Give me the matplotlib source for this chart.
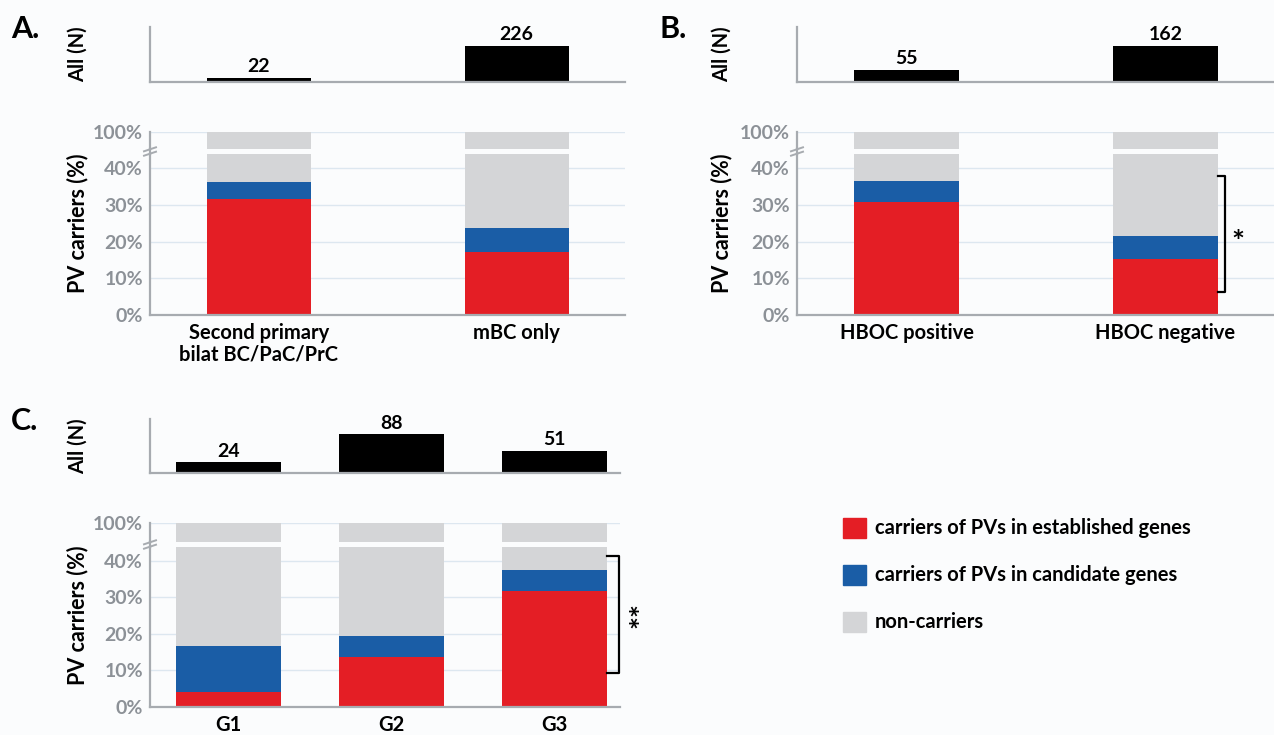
import matplotlib
matplotlib.use("Agg")
import matplotlib.pyplot as plt
from matplotlib.patches import Patch
from matplotlib.lines import Line2D
import numpy as np

plt.rcParams["font.family"] = ["Lato", "DejaVu Sans"]
plt.rcParams["font.weight"] = "bold"

W, H = 1274, 735

# panel A
a_cats = ["Second primary\nbilat BC/PaC/PrC", "mBC only"]
a_n = [22, 226]
a_est = [31.6, 17.2]
a_cand = [4.7, 6.6]

# panel B
b_cats = ["HBOC positive", "HBOC negative"]
b_n = [55, 162]
b_est = [30.9, 15.3]
b_cand = [5.5, 6.2]

# panel C
c_cats = ["G1", "G2", "G3"]
c_n = [24, 88, 51]
c_est = [4.0, 13.5, 31.6]
c_cand = [12.7, 5.8, 5.8]

legend_labels = ["carriers of PVs in established genes",
                 "carriers of PVs in candidate genes",
                 "non-carriers"]

RED = "#e41e25"
BLUE = "#1a5da6"
GRAY = "#d4d5d7"
SPINE = "#a7abb0"
TICK = "#8c9197"
GRID = "#dde7f0"
BG = "#fbfcfd"

FS = 14.5

fig = plt.figure(figsize=(W / 100, H / 100), dpi=100, facecolor=BG)


def rect(left, top, right, bottom):
    return [left / W, 1 - bottom / H, (right - left) / W, (bottom - top) / H]


def style(ax):
    ax.set_facecolor("none")
    for s in ["top", "right"]:
        ax.spines[s].set_visible(False)
    for s in ["left", "bottom"]:
        ax.spines[s].set_color(SPINE)
        ax.spines[s].set_linewidth(1.6)
    ax.tick_params(length=0)


def draw_panel(x0, x1, ys, ppp, cats, n, est, cand, xlim, width, nscale,
               letter, letter_x, label_x, sig=None):
    y_top, y_base, y_100, y_brk, y_low, y_0 = ys
    x = np.arange(len(cats))
    est = np.array(est)
    cand = np.array(cand)
    non = 100 - est - cand

    # counts
    ax_n = fig.add_axes(rect(x0, y_top, x1, y_base))
    style(ax_n)
    ax_n.bar(x, n, width, color="black")
    ax_n.set_xlim(xlim)
    ax_n.set_ylim(0, max(n) * nscale)
    ax_n.set_xticks([])
    ax_n.set_yticks([])
    for xi, v in zip(x, n):
        ax_n.annotate(str(v), (xi, v), xytext=(0, 2), textcoords="offset points",
                      ha="center", va="bottom", fontsize=14, fontweight="bold")

    # broken percentage axis
    lo_top = (y_0 - y_low) / ppp
    hi_bot = 100 - (y_brk - y_100) / ppp
    ax_hi = fig.add_axes(rect(x0, y_100, x1, y_brk))
    ax_lo = fig.add_axes(rect(x0, y_low, x1, y_0))
    for ax in (ax_hi, ax_lo):
        style(ax)
        ax.bar(x, est, width, color=RED)
        ax.bar(x, cand, width, bottom=est, color=BLUE)
        ax.bar(x, non, width, bottom=est + cand, color=GRAY)
        ax.set_xlim(xlim)
        ax.yaxis.grid(True, color=GRID, lw=1)
        ax.set_axisbelow(True)
        ax.tick_params(axis="y", labelcolor=TICK, labelsize=14, pad=5)
    ax_hi.spines["bottom"].set_visible(False)
    ax_hi.set_ylim(hi_bot, 100)
    ax_hi.set_yticks([100])
    ax_hi.set_yticklabels(["100%"])
    ax_hi.set_xticks([])
    ax_lo.set_ylim(0, lo_top)
    ax_lo.set_yticks([0, 10, 20, 30, 40])
    ax_lo.set_yticklabels(["0%", "10%", "20%", "30%", "40%"])
    ax_lo.set_xticks(x)
    ax_lo.set_xticklabels(cats, fontsize=FS, fontweight="bold", linespacing=1.05)
    ax_lo.tick_params(axis="x", pad=6)
    for lab in ax_hi.get_yticklabels() + ax_lo.get_yticklabels():
        lab.set_fontweight("bold")

    # break marks on the spine
    yc = (y_brk + y_low) / 2
    fig.add_artist(Line2D([x0 / W, x0 / W], [1 - y_brk / H, 1 - y_low / H],
                          color=SPINE, lw=1.6))
    for d in (-2.2, 2.2):
        fig.add_artist(Line2D([(x0 - 6) / W, (x0 + 6) / W],
                              [1 - (yc + d + 2) / H, 1 - (yc + d - 2) / H],
                              color=SPINE, lw=1.4))

    # significance bracket
    if sig is not None:
        i, lo, hi, off, mark, mx, my, rot = sig
        xr = i + width / 2
        ax_lo.plot([xr, xr + off, xr + off, xr], [lo, lo, hi, hi],
                   color="black", lw=1.6, clip_on=False)
        ax_lo.text(mx, my, mark, ha="center", va="center", fontsize=22,
                   fontweight="bold", rotation=rot, clip_on=False)

    # labels
    fig.text(label_x / W, 1 - (y_top + y_base) / 2 / H, "All (N)", rotation=90,
             ha="center", va="center", fontsize=FS, fontweight="bold")
    fig.text(label_x / W, 1 - (y_100 + y_0) / 2 / H, "PV carriers (%)", rotation=90,
             ha="center", va="center", fontsize=15.5, fontweight="bold")
    fig.text(letter_x / W, 1 - (y_top + 2) / H, letter, ha="left", va="center",
             fontsize=22, fontweight="bold")


ys_ab = (27, 81.7, 131.7, 149, 154, 315)
draw_panel(150, 625, ys_ab, 3.67, a_cats, a_n, a_est, a_cand, (-0.423, 1.421),
           0.404, 1.54, "A.", 11, 77.5)
draw_panel(797, 1274, ys_ab, 3.67, b_cats, b_n, b_est, b_cand, (-0.424, 1.42),
           0.404, 1.54, "B.", 659, 722,
           sig=(1, 6.4, 38.0, 0.03, "*", 1.28, 19.5, 0))
ys_c = (419, 473, 523.3, 542.3, 546.7, 706.7)
draw_panel(150, 620, ys_c, 3.65, c_cats, c_n, c_est, c_cand, (-0.482, 2.40),
           0.644, 1.40, "C.", 11, 78,
           sig=(2, 9.2, 41.3, 0.07, "**", 2.535, 25.0, 90))

handles = [Patch(color=RED), Patch(color=BLUE), Patch(color=GRAY)]
fig.legend(handles, legend_labels, loc="center left",
           bbox_to_anchor=(843 / W, 1 - 575 / H), frameon=False, fontsize=FS,
           handlelength=1.15, handleheight=1.15, handletextpad=0.45,
           labelspacing=1.3, borderpad=0, borderaxespad=0)

fig.savefig("out.png", dpi=100, facecolor=BG)
